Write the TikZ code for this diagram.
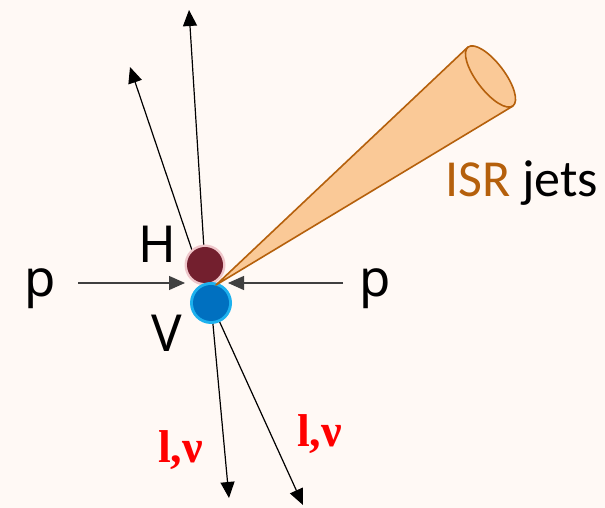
\documentclass[tikz,border=0pt]{standalone}
\usepackage{fontspec}
\setmainfont{Noto Sans}
\newfontfamily\calib{Carlito}
\newfontfamily\timesb{Liberation Serif}
\usetikzlibrary{arrows.meta}
\definecolor{paper}{RGB}{255,249,245}
\definecolor{jetfill}{RGB}{250,201,151}
\definecolor{jetline}{RGB}{181,96,12}
\definecolor{higgs}{RGB}{115,31,46}
\definecolor{higgsring}{RGB}{239,198,202}
\definecolor{vboson}{RGB}{0,112,192}
\definecolor{vring}{RGB}{29,177,238}
\begin{document}
\begin{tikzpicture}[x=1pt, y=1pt, line join=round,
  track/.style={line width=1.2pt, -{Triangle[length=16pt,width=14pt]}},
  beam/.style={track, draw=black!75},
  lab/.style={font=\fontsize{51}{56}\selectfont, anchor=base, inner sep=0pt},
  lep/.style={font=\timesb\bfseries\fontsize{46}{50}\selectfont, text=red, anchor=base, inner sep=0pt}]
  \fill[paper] (0,0) rectangle (605,508);
  \useasboundingbox (0,0) rectangle (605,508);
  % vertex and track ends
  \coordinate (hc) at (205,243);
  \coordinate (vc) at (211,205);
  \coordinate (apex) at (216,223);
  \coordinate (jtop) at (468,461);
  \coordinate (jbot) at (513,402);
  \coordinate (jmid) at (490.5,431.5);
  \coordinate (s2) at (197,243);
  \coordinate (t1) at (189,498);
  \coordinate (t2) at (130,441);
  \coordinate (t3) at (229,10);
  \coordinate (t4) at (303,3);
  \coordinate (pl) at (78,225);
  \coordinate (plt) at (185,225);
  \coordinate (pr) at (343,225);
  \coordinate (prt) at (228,225);
  % tracks
  \draw[track] (hc) -- (t1);
  \draw[track] (s2) -- (t2);
  \draw[track] (vc) -- (t3);
  \draw[track] (vc) -- (t4);
  \draw[beam] (pl) -- (plt);
  \draw[beam] (pr) -- (prt);
  % bosons
  \fill[higgsring] (hc) circle (20.5);
  \fill[higgs] (hc) circle (18);
  \fill[vring] (vc) circle (21);
  \fill[vboson] (vc) circle (18);
  % ISR jet
  \fill[jetfill] (apex) -- (jtop) -- (jbot) -- cycle;
  \filldraw[fill=jetfill, draw=jetline, line width=1.6pt]
    (jmid) ellipse[x radius=37, y radius=14, rotate=-52.7];
  \draw[jetline, line width=1.6pt] (jtop) -- (apex) -- (jbot);
  % labels
  \node[lab] (pleft) at (40,211) {p};
  \node[lab] (pright) at (375.5,211) {p};
  \node[lab] (hlab) at (157.5,245) {H};
  \node[lab] (vlab) at (167,156) {V};
  \node[anchor=base west, inner sep=0pt, font=\calib\fontsize{52}{56}\selectfont] (isr) at (445,311)
    {\textcolor{jetline}{ISR} jets};
  \node[lep] (lnu1) at (180.5,45) {l,ν};
  \node[lep] (lnu2) at (319.5,61) {l,ν};
\end{tikzpicture}
\end{document}
